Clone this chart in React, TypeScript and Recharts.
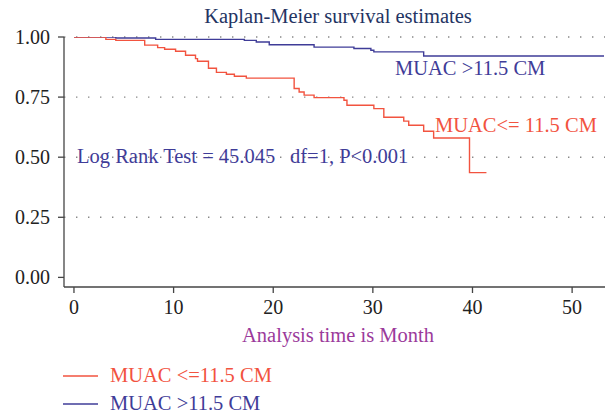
import { LineChart, Line, XAxis, YAxis, ReferenceLine } from "recharts";

// Kaplan-Meier step estimates
const redTimes = [0, 3.2, 4.2, 7.1, 8.4, 9.1, 10.2, 11.2, 12.2, 12.4, 13.5, 14.3, 15.3, 16.1, 17.3, 22.1, 22.6, 23.1, 24.1, 27.1, 27.4, 30.1, 31.1, 33.1, 33.6, 35.1, 36.1, 39.7, 41.4];
const redSurv = [1, 0.99, 0.986, 0.966, 0.956, 0.949, 0.941, 0.924, 0.91, 0.899, 0.87, 0.853, 0.845, 0.837, 0.829, 0.786, 0.771, 0.758, 0.748, 0.737, 0.716, 0.702, 0.666, 0.65, 0.633, 0.608, 0.58, 0.436, 0.436];

const blueTimes = [0, 4.2, 8.2, 17.1, 18.3, 19.6, 24.1, 28.1, 29.8, 30.1, 35.1, 53.2];
const blueSurv = [1, 0.996, 0.99, 0.986, 0.979, 0.968, 0.958, 0.952, 0.945, 0.938, 0.921, 0.921];

const xTicks = [0, 10, 20, 30, 40, 50];
const yTicks = [0, 0.25, 0.5, 0.75, 1];
const gridValues = [0.25, 0.5, 0.75, 1];

const RED = "#f2533f";
const BLUE = "#3f3c98";
const FONT = "Liberation Serif, DejaVu Serif, serif";

const redData = redTimes.map((t, i) => ({ t, s: redSurv[i] }));
const blueData = blueTimes.map((t, i) => ({ t, s: blueSurv[i] }));

export default function App() {
  const tick = { fontFamily: FONT, fontSize: 20, fill: "#222" };
  return (
    <div style={{ position: "absolute", left: 0, top: 0, width: 605, height: 415, background: "#fff", fontFamily: FONT }}>
      <LineChart width={605} height={415} margin={{ top: 37, right: 0, left: 0, bottom: 98 }}>
        <XAxis
          type="number"
          dataKey="t"
          domain={[-1, 53.3]}
          ticks={xTicks}
          allowDataOverflow
          height={30}
          tickSize={6}
          tickMargin={7}
          tick={tick}
          stroke="#444"
          strokeWidth={1.3}
        />
        <YAxis
          type="number"
          domain={[-0.04, 1]}
          ticks={yTicks}
          allowDataOverflow
          width={64}
          tickSize={6}
          tickMargin={8}
          tick={tick}
          tickFormatter={(v: number) => v.toFixed(2)}
          stroke="#444"
          strokeWidth={1.3}
        />
        {gridValues.map((v) => (
          <ReferenceLine key={v} y={v} stroke="#888" strokeWidth={1.4} strokeDasharray="1.4 10.6" />
        ))}
        <Line
          data={blueData}
          dataKey="s"
          type="stepAfter"
          stroke={BLUE}
          strokeWidth={1.4}
          dot={false}
          isAnimationActive={false}
        />
        <Line
          data={redData}
          dataKey="s"
          type="stepAfter"
          stroke={RED}
          strokeWidth={1.4}
          dot={false}
          isAnimationActive={false}
        />
      </LineChart>
      <svg
        width={605}
        height={415}
        style={{ position: "absolute", left: 0, top: 0, pointerEvents: "none", fontFamily: FONT }}
      >
        <text x={338} y={23} textAnchor="middle" fontSize={20.5} fill="#243463">
          Kaplan-Meier survival estimates
        </text>
        <text x={395} y={75} fontSize={20.5} fill={BLUE}>
          MUAC &gt;11.5 CM
        </text>
        <text x={435} y={131.5} fontSize={20.5} fill={RED}>
          MUAC&lt;= 11.5 CM
        </text>
        <text x={77} y={163} fontSize={20.5} fill={BLUE}>
          Log Rank Test = 45.045
        </text>
        <text x={290} y={163} fontSize={20.5} fill={BLUE}>
          df=1, P&lt;0.001
        </text>
        <text x={338} y={341.5} textAnchor="middle" fontSize={20.5} fill="#9b3a9b">
          Analysis time is Month
        </text>
        <line x1={63} x2={98} y1={376} y2={376} stroke={RED} strokeWidth={1.4} />
        <text x={110} y={382} fontSize={20.5} fill={RED}>
          MUAC &lt;=11.5 CM
        </text>
        <line x1={63} x2={98} y1={404} y2={404} stroke={BLUE} strokeWidth={1.4} />
        <text x={110} y={409.5} fontSize={20.5} fill={BLUE}>
          MUAC &gt;11.5 CM
        </text>
      </svg>
    </div>
  );
}
